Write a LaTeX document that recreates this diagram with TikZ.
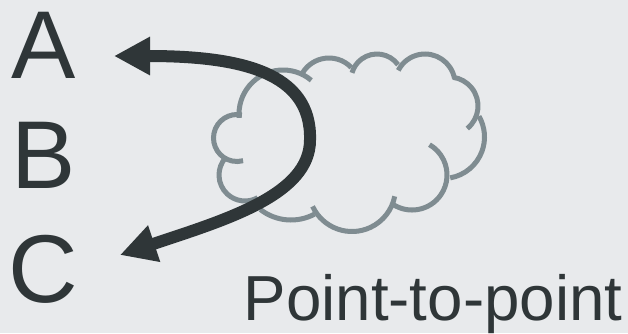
\documentclass[tikz,border=0pt]{standalone}
\usepackage{fontspec}
\setmainfont{Liberation Sans}
\usetikzlibrary{arrows.meta}
\definecolor{paper}{RGB}{232,234,236}
\definecolor{cloudgrey}{RGB}{127,140,145}
\definecolor{darkline}{RGB}{47,54,56}
\begin{document}
\begin{tikzpicture}[x=0.01cm, y=-0.01cm,
    letter/.style={darkline, inner sep=0pt, anchor=base, font=\fontsize{27.4pt}{30pt}\selectfont},
    caption/.style={darkline, inner sep=0pt, anchor=base, font=\fontsize{18.1pt}{22pt}\selectfont},
    cloudarc/.style={cloudgrey, line width=0.05cm},
    route/.style={darkline, line width=0.12cm, {Triangle[length=0.36cm,width=0.36cm]}-{Triangle[length=0.36cm,width=0.36cm]}}]
  \fill[paper, use as bounding box] (0,0) rectangle (628,333);
  % Cloud
  \foreach \cx/\cy/\rad/\from/\to in {283/114/44/-50/-185, 237/138/23.5/-78/-285, 245/175/26/-137/-299,
      291/170/50/128/62, 352/188/43.5/155/11, 412/175/35/124/-60, 443/137/41.5/80/-30,
      449/106/29/51/-82, 425/84/30/-11/-153, 377/80/26/-36/-164, 329/89/31/-44/-153}
    \draw[cloudarc] (\cx,\cy) ++(\from:\rad) arc (\from:\to:\rad);
  % Labels
  \node[letter] (nodea) at (43.5,78.5) {A};
  \node[letter] (nodeb) at (43.5,188) {B};
  \node[letter] (nodec) at (43.5,302) {C};
  \node[caption] (caption) at (433,320) {Point-to-point};
  % Route
  \coordinate (tipa) at (114,56);
  \coordinate (bend) at (310,140);
  \coordinate (tipc) at (120,255);
  \draw[route] (tipa) .. controls (240,56) and (312,72) .. (bend) .. controls (310,195) and (225,220) .. (tipc);
\end{tikzpicture}
\end{document}
